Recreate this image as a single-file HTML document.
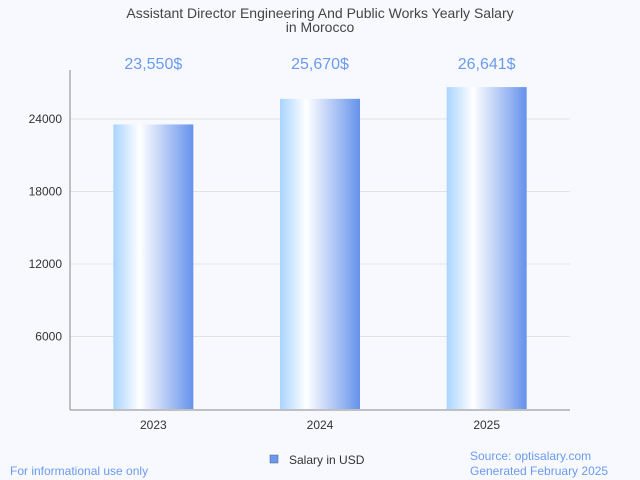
<!DOCTYPE html>
<html><head><meta charset="utf-8"><style>
body{margin:0;background:#f8f9fe;}
svg{display:block;font-family:"Liberation Sans",sans-serif;}
</style></head><body>
<svg id="chart" width="640" height="480">
<defs>
<linearGradient id="bg" x1="0" x2="1" y1="0" y2="0">
<stop offset="0" stop-color="#a9d4ff"/>
<stop offset="0.33" stop-color="#ffffff"/>
<stop offset="1" stop-color="#6592ec"/>
</linearGradient>
</defs>
<rect width="640" height="480" fill="#f8f9fe"/>
<text x="320" y="18" text-anchor="middle" font-size="14" fill="#444">Assistant Director Engineering And Public Works Yearly Salary</text>
<text x="320" y="32" text-anchor="middle" font-size="14" fill="#444">in Morocco</text>
<g id="grid"></g>
<g id="bars"></g>
<line x1="70" y1="70" x2="70" y2="410" stroke="#888"/>
<line x1="70" y1="410" x2="570" y2="410" stroke="#888"/>
<rect x="270" y="455" width="8" height="8" fill="#6a9af0" stroke="#557" stroke-width="0.5"/>
<text x="289" y="464" font-size="12" fill="#333">Salary in USD</text>
<text x="10" y="475" font-size="12" fill="#6a9af0">For informational use only</text>
<text x="470" y="460" font-size="12" fill="#6a9af0">Source: optisalary.com</text>
<text x="470" y="475" font-size="12" fill="#6a9af0">Generated February 2025</text>
</svg>
<script>
const categories=["2023","2024","2025"];
const salaries=[23550,25670,26641];
const valueLabels=["23,550$","25,670$","26,641$"];
const ticks=[6000,12000,18000,24000];
const NS="http://www.w3.org/2000/svg";
const x0=70,x1=570,y0=409,pxPer=72.5/6000;
const y=v=>y0-v*pxPer;
const band=(x1-x0)/categories.length;
const xc=i=>x0+band*(i+0.5);
function mk(t,a,p){const e=document.createElementNS(NS,t);for(const k in a)e.setAttribute(k,a[k]);p.appendChild(e);return e;}
const grid=document.getElementById('grid');
ticks.forEach(t=>{
const l=mk('line',{x1:x0,x2:x1,y1:y(t),y2:y(t),stroke:'#e2e2e2'},grid);


const tx=mk('text',{x:62,y:y(t)+4,'text-anchor':'end','font-size':12,fill:'#333'},grid);
tx.textContent=t;


});
const bars=document.getElementById('bars');
categories.forEach((c,i)=>{
const r=mk('rect',{x:xc(i)-40,y:y(salaries[i]),width:80,height:y0-y(salaries[i]),fill:'url(#bg)'},bars);


const v=mk('text',{x:xc(i),y:69,'text-anchor':'middle','font-size':16,fill:'#6a9af0'},bars);
v.textContent=valueLabels[i];


const xl=mk('text',{x:xc(i),y:429,'text-anchor':'middle','font-size':12,fill:'#333'},bars);
xl.textContent=c;


});
</script>
</body></html>
